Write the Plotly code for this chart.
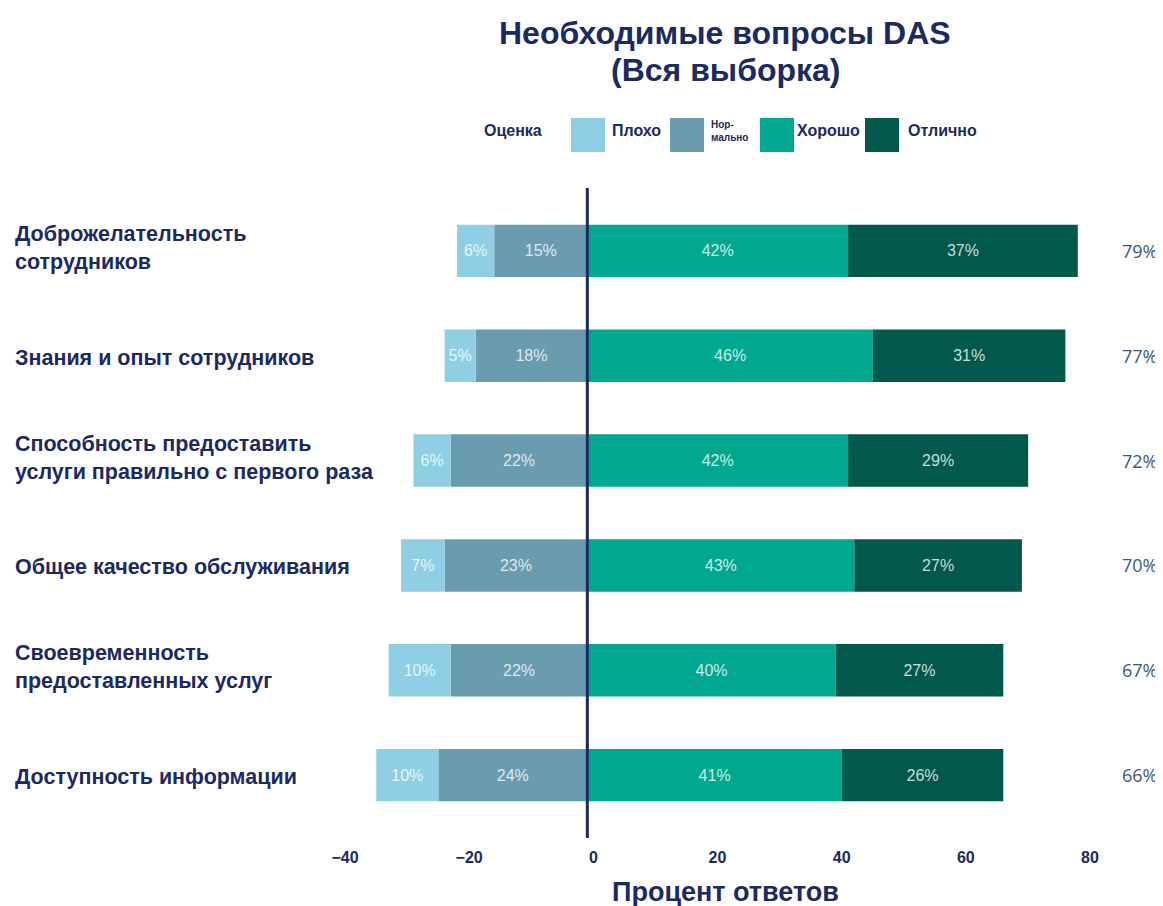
import plotly.graph_objects as go

categories = [
    "Доброжелательность<br>сотрудников",
    "Знания и опыт сотрудников",
    "Способность предоставить<br>услуги правильно с первого раза",
    "Общее качество обслуживания",
    "Своевременность<br>предоставленных услуг",
    "Доступность информации",
]
plokho = [6, 5, 6, 7, 10, 10]
normalno = [15, 18, 22, 23, 22, 24]
khorosho = [42, 46, 42, 43, 40, 41]
otlichno = [37, 31, 29, 27, 27, 26]
totals = [79, 77, 72, 70, 67, 66]
tick_vals = [-40, -20, 0, 20, 40, 60, 80]

NAVY = "#1B2A63"
C_PLOKHO = "#8ECFE5"
C_NORM = "#699CAF"
C_KHOR = "#00A88F"
C_OTL = "#00594A"
W = 1163
H = 906
OFF = 8  # page offset compensation

FONT = "Liberation Sans, Arial, sans-serif"

# plot area in figure pixels
PT, PB = 188 - OFF, 838 - OFF
PL, PR = 339 - OFF, 1084 - OFF


def px(x):
    return (x - OFF) / W


def py(y):
    return (PB - (y - OFF)) / (PB - PT)


ykeys = list(range(len(categories)))
bar_font = dict(family="Liberation Sans Narrow, Arial Narrow, sans-serif", size=16,
                color="rgba(255,255,255,0.8)")

fig = go.Figure()


def add_bar(vals, color, sign):
    fig.add_trace(go.Bar(
        y=ykeys, x=[sign * v for v in vals], orientation="h",
        marker=dict(color=color, line=dict(width=0)),
        width=0.5,
        text=[f"{v}%" for v in vals], textposition="inside",
        insidetextanchor="middle", textangle=0, textfont=bar_font,
        showlegend=False, hoverinfo="skip",
    ))


add_bar(normalno, C_NORM, -1)
add_bar(plokho, C_PLOKHO, -1)
add_bar(khorosho, C_KHOR, 1)
add_bar(otlichno, C_OTL, 1)

fig.update_layout(
    width=W, height=H,
    barmode="relative",
    plot_bgcolor="white", paper_bgcolor="white",
    margin=dict(l=0, r=0, t=PT, b=H - PB, pad=0, autoexpand=False),
    showlegend=False,
    xaxis=dict(
        domain=[PL / W, PR / W], range=[-40, 80], tickvals=tick_vals,
        showgrid=False, zeroline=False, showline=False, ticks="",
        ticklabelstandoff=8, ticklabelshift=6, automargin=False,
        tickfont=dict(family=FONT, size=16, color=NAVY, weight="bold"),
    ),
    yaxis=dict(
        range=[len(categories) - 0.4, -0.6], showticklabels=False, showgrid=False,
        zeroline=False, showline=False, ticks="", automargin=False,
    ),
)

# title (two lines placed separately)
for txt, yy, xx in [("Необходимые вопросы DAS", 33, 725), ("(Вся выборка)", 70, 725)]:
    fig.add_annotation(x=px(xx), y=py(yy), xref="paper", yref="paper", xanchor="center", yanchor="middle",
                       text=f"<b>{txt}</b>", showarrow=False,
                       font=dict(family=FONT, size=32, color=NAVY))

# x-axis title
fig.add_annotation(x=px(725), y=py(892), xref="paper", yref="paper", xanchor="center", yanchor="middle",
                   text="<b>Процент ответов</b>", showarrow=False,
                   font=dict(family=FONT, size=27, color=NAVY))

# zero line
fig.add_shape(type="line", xref="x", yref="paper", x0=0, x1=0, y0=0, y1=1,
              line=dict(color=NAVY, width=3), layer="above")

# category labels and totals
for i, c in enumerate(categories):
    shift = 3 if "<br>" in c else -2
    fig.add_annotation(x=px(13), xref="paper", xanchor="left", y=i, yref="y", yanchor="middle",
                       yshift=shift,
                       text=f"<b>{c}</b>", align="left", showarrow=False,
                       font=dict(family=FONT, size=21.5, color=NAVY))
    fig.add_annotation(x=px(1139), xref="paper", xanchor="center", y=i, yref="y", yanchor="middle",
                       text=f"{totals[i]}%", showarrow=False,
                       font=dict(family="Open Sans, sans-serif", size=18, color="#38597F"))

# custom legend
fig.add_annotation(x=px(482), xref="paper", xanchor="left", y=py(130), yref="paper", yanchor="middle",
                   text="<b>Оценка</b>", showarrow=False,
                   font=dict(family=FONT, size=16, color=NAVY))
legend_items = [
    (571, C_PLOKHO, 610, "<b>Плохо</b>", 16),
    (670, C_NORM, 709, "<b>Нор-<br>мально</b>", 10),
    (760, C_KHOR, 795, "<b>Хорошо</b>", 16),
    (865, C_OTL, 906, "<b>Отлично</b>", 16),
]
for sx, col, tx, txt, fs in legend_items:
    fig.add_shape(type="rect", xref="paper", yref="paper", x0=px(sx), x1=px(sx + 34),
                  y0=py(152), y1=py(118), fillcolor=col, line=dict(width=0))
    fig.add_annotation(x=px(tx), xref="paper", xanchor="left", y=py(131), yref="paper", yanchor="middle",
                       text=txt, showarrow=False, align="left",
                       font=dict(family=FONT, size=fs, color=NAVY))

fig.write_html("out.html")
